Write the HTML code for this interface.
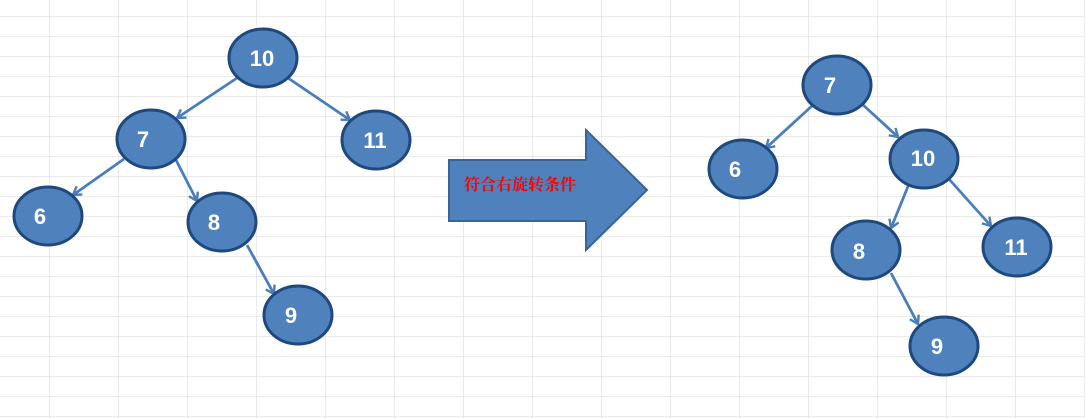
<!DOCTYPE html>
<html><head><meta charset="utf-8"><style>
html,body{margin:0;padding:0;background:#fff;}
svg{display:block;}
text{font-family:"Liberation Sans",sans-serif;font-weight:bold;fill:#fff;font-size:22px;}
</style></head><body>
<svg width="1085" height="418" xmlns="http://www.w3.org/2000/svg">
<defs>
<pattern id="g" x="49" y="16" width="69" height="20" patternUnits="userSpaceOnUse">
<path d="M0 0H69M0 0V20" stroke="#dedede" stroke-width="1.3" fill="none"/>
</pattern>
<marker id="a" markerWidth="12" markerHeight="12" refX="9" refY="6" orient="auto" markerUnits="userSpaceOnUse">
<path d="M1 1L9 6L1 11" stroke="#4a7ebb" stroke-width="2.4" fill="none"/>
</marker>
</defs>
<rect x="0" y="0" width="1085" height="418" fill="url(#g)"/>
<g stroke="#4a7ebb" stroke-width="2.8" marker-end="url(#a)">
<line x1="237" y1="78" x2="177" y2="118"/>
<line x1="288" y1="78" x2="350" y2="120"/>
<line x1="124" y1="159" x2="73" y2="195"/>
<line x1="176" y1="160" x2="197" y2="201"/>
<line x1="247" y1="245" x2="274" y2="294"/>
<line x1="813" y1="105" x2="766" y2="148"/>
<line x1="862" y1="104" x2="898" y2="137"/>
<line x1="909" y1="184" x2="891" y2="228"/>
<line x1="948" y1="178" x2="991" y2="226"/>
<line x1="891" y1="273" x2="918" y2="324"/>
</g>
<path d="M449 160H586V130L647 190L586 250V221H449Z" fill="#4f81bd" stroke="#3a6496" stroke-width="2"/>
<text x="464" y="190" style="fill:#ff0000;font-family:'Liberation Serif','Noto Serif CJK SC',serif;font-size:16px;font-weight:bold;">符合右旋转条件</text>
<g fill="#4f81bd" stroke="#1f497d" stroke-width="3">
<ellipse cx="263" cy="58" rx="34" ry="29"/>
<ellipse cx="151" cy="139" rx="34" ry="29"/>
<ellipse cx="376" cy="140" rx="34" ry="29"/>
<ellipse cx="48" cy="216" rx="34" ry="29"/>
<ellipse cx="222" cy="222" rx="34" ry="29"/>
<ellipse cx="298" cy="315" rx="34" ry="29"/>
<ellipse cx="837" cy="85" rx="34" ry="29"/>
<ellipse cx="743" cy="169" rx="34" ry="29"/>
<ellipse cx="924" cy="159" rx="34" ry="29"/>
<ellipse cx="866" cy="250" rx="34" ry="29"/>
<ellipse cx="1017" cy="247" rx="34" ry="29"/>
<ellipse cx="944" cy="346" rx="34" ry="29"/>
</g>
<text x="262" y="66" text-anchor="middle">10</text>
<text x="143" y="147" text-anchor="middle">7</text>
<text x="375" y="148" text-anchor="middle">11</text>
<text x="40" y="224" text-anchor="middle">6</text>
<text x="214" y="230" text-anchor="middle">8</text>
<text x="291" y="323" text-anchor="middle">9</text>
<text x="830" y="93" text-anchor="middle">7</text>
<text x="735" y="177" text-anchor="middle">6</text>
<text x="923" y="166" text-anchor="middle">10</text>
<text x="859" y="259" text-anchor="middle">8</text>
<text x="1016" y="255" text-anchor="middle">11</text>
<text x="937" y="354" text-anchor="middle">9</text>
</svg>
</body></html>
